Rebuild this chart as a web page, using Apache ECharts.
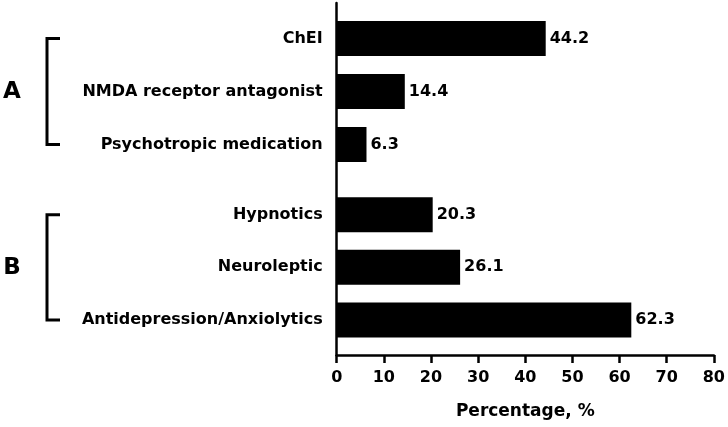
<!DOCTYPE html>
<html>
<head>
<meta charset="utf-8">
<script src="https://cdn.jsdelivr.net/npm/echarts@6/dist/echarts.min.js"></script>
<style>html,body{margin:0;padding:0;background:#fff;}#c{width:728px;height:427px;}</style>
</head>
<body>
<div id="c"></div>
<script>
const groupA = ['ChEI', 'NMDA receptor antagonist', 'Psychotropic medication'];
const valuesA = [44.2, 14.4, 6.3];
const groupB = ['Hypnotics', 'Neuroleptic', 'Antidepression/Anxiolytics'];
const valuesB = [20.3, 26.1, 62.3];
const groupLabels = ['A', 'B'];
const xTicks = [0, 80, 10];

const FONT = '"DejaVu Sans", sans-serif';
const chart = echarts.init(document.getElementById('c'), null, {renderer: 'canvas'});
const L = 336.7, R = 13;
const hiddenX = (g) => ({type: 'value', gridIndex: g, min: xTicks[0], max: xTicks[1], show: false});
const catY = (g, data) => ({
  type: 'category', gridIndex: g, data: data, inverse: true,
  axisLine: {show: false}, axisTick: {show: false},
  axisLabel: {color: '#000', fontFamily: FONT, fontWeight: 'bold', fontSize: 16, margin: 14}
});
const barSeries = (g, vals) => ({
  type: 'bar', xAxisIndex: g, yAxisIndex: g, data: vals, barWidth: 35,
  itemStyle: {color: '#000'},
  label: {show: true, position: 'right', distance: 4, color: '#000', fontFamily: FONT, fontWeight: 'bold', fontSize: 16},
  animation: false
});
chart.setOption({
  animation: false,
  grid: [
    {left: L, right: R, top: 3, bottom: 72},
    {left: L, right: R, top: 12, height: 159},
    {left: L, right: R, top: 188.3, height: 158}
  ],
  xAxis: [
    {type: 'value', gridIndex: 0, min: xTicks[0], max: xTicks[1], interval: xTicks[2],
     splitLine: {show: false},
     axisLine: {show: true, lineStyle: {color: '#000', width: 2.5}},
     axisTick: {show: true, length: 8, lineStyle: {color: '#000', width: 2.5}},
     axisLabel: {color: '#000', fontFamily: FONT, fontWeight: 'bold', fontSize: 16, margin: 15},
     name: 'Percentage, %', nameLocation: 'middle', nameGap: 48,
     nameTextStyle: {color: '#000', fontFamily: FONT, fontWeight: 'bold', fontSize: 17}},
    hiddenX(1), hiddenX(2)
  ],
  yAxis: [
    {type: 'value', gridIndex: 0, min: 0, max: 1,
     axisLine: {show: true, lineStyle: {color: '#000', width: 2.5}},
     axisTick: {show: false}, axisLabel: {show: false}, splitLine: {show: false}},
    catY(1, groupA), catY(2, groupB)
  ],
  series: [barSeries(1, valuesA), barSeries(2, valuesB)]
});

function bracket(axisIdx, cats, letter) {
  const y1 = chart.convertToPixel({yAxisIndex: axisIdx}, cats[0]);
  const y2 = chart.convertToPixel({yAxisIndex: axisIdx}, cats[cats.length - 1]);
  const x = 47, cap = 13;
  const st = {stroke: '#000', lineWidth: 3, fill: null};
  return [
    {type: 'polyline', shape: {points: [[x + cap, y1], [x, y1], [x, y2], [x + cap, y2]]}, style: st},
    {type: 'text', x: 12, y: (y1 + y2) / 2 + 1, style: {text: letter, fill: '#000', font: 'bold 23px ' + FONT, align: 'center', verticalAlign: 'middle'}}
  ];
}
chart.setOption({graphic: {elements: bracket(1, groupA, groupLabels[0]).concat(bracket(2, groupB, groupLabels[1]))}});
</script>
</body>
</html>
